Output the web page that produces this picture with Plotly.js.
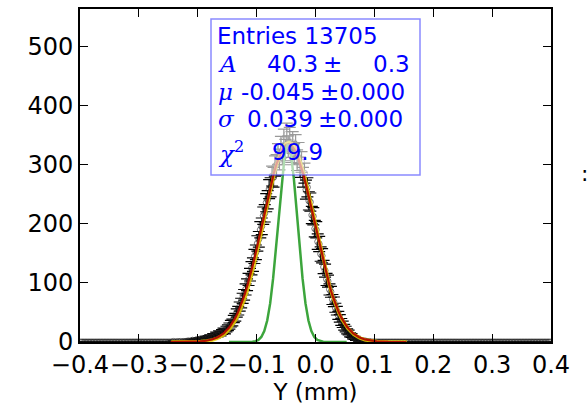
<!DOCTYPE html>
<html>
<head>
<meta charset="utf-8">
<script src="https://cdn.plot.ly/plotly-3.0.1.min.js"></script>
<style>html,body{margin:0;padding:0;background:#fff;}#chart{width:588px;height:407px;}</style>
</head>
<body>
<div id="chart"></div>
<script>
// Histogram definition (bin edges) and bin contents
const binLo = -0.4;
const binWidth = 0.0025;
const counts = [
0,0,0,0,0,0,0,0,0,0,0,0,0,0,0,0,0,0,0,0,
0,0,0,0,0,0,0,0,0,0,0,0,0,0,0,0,0,0,0,0,
0,0,0,0,0,0,0,0,0,0,0,0,0,0,0,0,0,0,0,0,
0,
0,
0,1,0,0,1,0,1,0,1,1,
1,2,1,2,3,2,3,4,3,
5,4,6,5,7,6,8,9,8,11,
10,13,12,15,14,17,19,18,22,24,
27,31,33,39,42,49,53,60,66,74,
80,89,97,106,114,125,131,145,152,167,
174,190,196,214,218,236,241,259,262,281,
279,298,300,318,309,330,318,342,325,352,
331,345,322,338,318,333,308,320,296,305,
279,286,258,262,239,237,215,213,192,190,
170,166,149,146,127,121,106,103,89,85,
72,68,58,53,45,40,34,30,25,22,
18,16,12,11,8,7,5,5,3,3,
2,1,2,1,0,1,0,
0,0,0,0,0,0,0,0,0,0,0,0,0,0,0,0,0,0,0,0,
0,0,0,0,0,0,0,0,0,0,0,0,0,0,0,0,0,0,0,0,
0,0,0,0,0,0,0,0,0,0,0,0,0,0,0,0,0,0,0,0,
0,0,0,0,0,0,0,0,0,0,0,0,0,0,0,0,0,0,0,0,
0,0,0,0,0,0,0,0,0,0,0,0,0,0,0,0,0,0,0,0,
0,0,0,0,0,0,0,0,0,0,0,0,0,0,0,0,0,0,0,0,
0,0
];

// Fit curves: offsets from fitted mean and curve values
const redMu = -0.046;
const yellowMu = -0.045;
const fitOffsets = [-0.2,-0.17,-0.15,-0.14,-0.13,-0.12,-0.11,-0.1,-0.095,-0.09,-0.085,-0.08,-0.075,-0.07,-0.065,-0.06,-0.055,-0.05,-0.045,-0.04,-0.035,-0.03,-0.025,-0.02,-0.015,-0.01,-0.005,
0,0.005,0.01,0.015,0.02,0.025,0.03,0.035,0.04,0.045,0.05,0.055,0.06,0.065,0.07,0.075,0.08,0.085,0.09,0.095,0.1,0.11,0.12,0.13,0.14,0.15,0.17,0.2];
const redFit = [0,0.2,1.0,2.1,4.3,8.1,14.7,25.3,32.6,41.3,51.8,64.2,78.4,94.5,112.5,132.2,153.4,175.6,198.6,221.6,244.1,265.5,285.1,302.1,316.1,326.5,332.8,
335,332.8,326.5,316.1,302.1,285.1,265.5,244.1,221.6,198.6,175.6,153.4,132.2,112.5,94.5,78.4,64.2,51.8,41.3,32.6,25.3,14.7,8.1,4.3,2.1,1.0,0.2,0];
const yellowFit = [0,0.1,0.8,1.7,3.5,7.0,13.0,23.0,30.0,38.5,48.5,60.5,74.5,90.5,108.5,128.5,150,173,196.5,220,243.5,265.5,286,303.5,318,329,336,
338,336,329,318,303.5,286,265.5,243.5,220,196.5,173,150,128.5,108.5,90.5,74.5,60.5,48.5,38.5,30.0,23.0,13.0,7.0,3.5,1.7,0.8,0.1,0];

const greenMu = -0.047;
const greenOffsets = [-0.1,-0.07,-0.06,-0.055,-0.05,-0.045,-0.04,-0.035,-0.03,-0.025,-0.02,-0.015,-0.01,-0.005,0,0.005,0.01,0.015,0.02,0.025,0.03,0.035,0.04,0.045,0.05,0.055,0.06,0.07,0.1];
const greenFit = [0,0,0.5,1.4,3.6,8.5,18.4,36.3,65.4,107.7,162.1,222.7,279.4,320.2,335,320.2,279.4,222.7,162.1,107.7,65.4,36.3,18.4,8.5,3.6,1.4,0.5,0,0];

// Stats box text
const statEntries = "Entries 13705";
const statLabels = ["<i>A</i>", "<i>μ</i>", "<i>σ</i>", "<i>χ</i><sup>2</sup>"];
const statValues = ["40.3", "-0.045", "0.039", "99.9"];
const statErrors = ["0.3", "0.000", "0.000"];

const xTickVals = [-0.4,-0.3,-0.2,-0.1,0.0,0.1,0.2,0.3,0.4];
const yTickVals = [0,100,200,300,400,500];

const binCenters = counts.map((_, i) => binLo + binWidth * (i + 0.5));

const traces = [
  {
    x: binCenters, y: counts, type: 'scatter', mode: 'markers',
    marker: {symbol: 'circle-open', size: 6, color: 'rgba(30,30,30,0.6)', line: {width: 1}},
    error_y: {type: 'sqrt', visible: true, color: 'black', thickness: 1.2, width: 6},
    hoverinfo: 'skip', showlegend: false
  },
  {
    x: fitOffsets.map(d => yellowMu + d), y: yellowFit, type: 'scatter', mode: 'lines',
    line: {color: 'rgba(240,210,0,0.85)', width: 3.5}, showlegend: false
  },
  {
    x: fitOffsets.map(d => redMu + d), y: redFit, type: 'scatter', mode: 'lines',
    line: {color: 'rgba(175,0,0,0.9)', width: 2.2}, showlegend: false
  },
  {
    x: greenOffsets.map(d => greenMu + d), y: greenFit, type: 'scatter', mode: 'lines',
    line: {color: 'rgb(60,165,60)', width: 2.5}, showlegend: false
  }
];

const W = 471, H = 333, L = 80, T = 9;
const px = X => (X - L) / W;
const py = Y => (T + H - Y) / H;

const blue = '#0000ff';
const sansF = {family: 'DejaVu Sans', size: 23, color: blue};
const serifF = {family: 'DejaVu Serif', size: 23, color: blue};
const annotations = [];
function ann(text, X, Y, xanchor, font) {
  annotations.push({text: text, xref: 'paper', yref: 'paper', x: px(X), y: py(Y),
    xanchor: xanchor, yanchor: 'middle', showarrow: false, font: font});
}
ann(statEntries, 215, 36, 'left', sansF);
const lineY = [64, 92, 119, 152];
ann(statLabels[0], 216, lineY[0], 'left', serifF);
ann(statLabels[1], 216, lineY[1], 'left', serifF);
ann(statLabels[2], 216, lineY[2], 'left', serifF);
ann(statLabels[3], 216, lineY[3], 'left', serifF);
ann(statValues[0], 320, lineY[0], 'right', sansF);
ann(statValues[1], 317, lineY[1], 'right', sansF);
ann(statValues[2], 315, lineY[2], 'right', sansF);
ann(statValues[3], 325, lineY[3], 'right', sansF);
ann('±', 321, lineY[0], 'left', sansF);
ann('±' + statErrors[1], 318, lineY[1], 'left', sansF);
ann('±' + statErrors[2], 316, lineY[2], 'left', sansF);
ann(statErrors[0], 412, lineY[0], 'right', sansF);
ann(':', 584, 173, 'center', {family: 'DejaVu Sans', size: 22, color: 'black'});

const layout = {
  width: 588, height: 407,
  margin: {l: 80, r: 37, t: 9, b: 65},
  paper_bgcolor: 'white', plot_bgcolor: 'white',
  font: {family: 'DejaVu Sans', size: 24, color: 'black'},
  xaxis: {
    range: [-0.4, 0.4], tickvals: xTickVals, tickformat: '.1f', tickangle: 0,
    ticks: 'inside', ticklen: 8, tickwidth: 1, tickcolor: 'black',
    showline: true, linecolor: 'black', linewidth: 2, mirror: 'ticks',
    showgrid: false, zeroline: false,
    tickfont: {family: 'DejaVu Sans', size: 24, color: 'black'},
    title: {text: 'Y (mm)', font: {family: 'DejaVu Sans', size: 23, color: 'black'}, standoff: 4}
  },
  yaxis: {
    range: [0, 564], tickvals: yTickVals,
    ticks: 'inside', ticklen: 8, tickwidth: 1, tickcolor: 'black',
    showline: true, linecolor: 'black', linewidth: 2, mirror: 'ticks',
    showgrid: false, zeroline: false,
    tickfont: {family: 'DejaVu Sans', size: 24, color: 'black'}
  },
  shapes: [{
    type: 'rect', xref: 'paper', yref: 'paper', layer: 'above',
    x0: px(211), x1: px(420), y0: py(175), y1: py(19),
    fillcolor: 'rgba(255,255,255,0.6)', line: {color: 'rgba(60,60,255,0.6)', width: 1.5}
  }],
  annotations: annotations,
  showlegend: false
};

Plotly.newPlot('chart', traces, layout, {displayModeBar: false, staticPlot: true});
</script>
</body>
</html>
